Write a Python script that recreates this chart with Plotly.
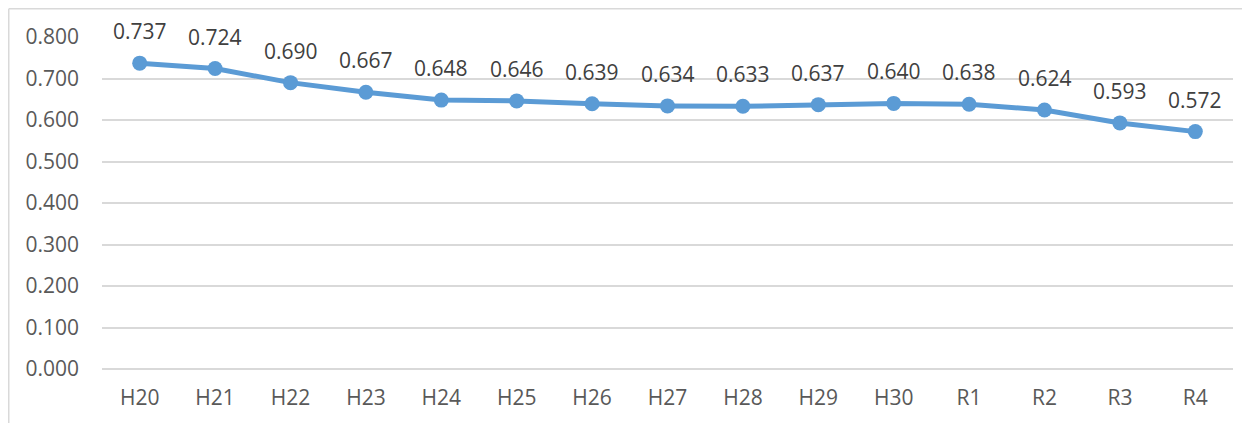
import plotly.graph_objects as go

categories = ["H20", "H21", "H22", "H23", "H24", "H25", "H26", "H27", "H28", "H29", "H30", "R1", "R2", "R3", "R4"]
values = [0.737, 0.724, 0.690, 0.667, 0.648, 0.646, 0.639, 0.634, 0.633, 0.637, 0.640, 0.638, 0.624, 0.593, 0.572]
y_ticks = [0.0, 0.1, 0.2, 0.3, 0.4, 0.5, 0.6, 0.7, 0.8]

FONT = "Open Sans"
TXT = "#404040"
FS = 21

fig = go.Figure()
fig.add_trace(go.Scatter(
    x=categories, y=values, mode="lines+markers",
    line=dict(color="#5B9BD5", width=5),
    marker=dict(color="#5B9BD5", size=15),
    hoverinfo="x+y", showlegend=False,
))
for c, v in zip(categories, values):
    fig.add_annotation(x=c, y=v, text=f"{v:.3f}", showarrow=False, yshift=32,
                       font=dict(family=FONT, size=FS, color=TXT))

# page body has an 8px margin, so the figure is offset by (8, 8)
L, R, T, B = 94, 17, 29, 54
W, H = 1242, 415
pw, ph = W - L - R, H - T - B
bx = (0.75 - L) / pw
by = 1 + (T - 0.75) / ph
fig.add_shape(type="line", xref="paper", yref="paper", x0=bx, x1=1.2, y0=by, y1=by,
              line=dict(color="#d9d9d9", width=1.5))
fig.add_shape(type="line", xref="paper", yref="paper", x0=bx, x1=bx, y0=by, y1=-0.3,
              line=dict(color="#d9d9d9", width=1.5))

fig.update_layout(
    width=W, height=H, margin=dict(l=L, r=R, t=T, b=B),
    paper_bgcolor="white", plot_bgcolor="white",
    font=dict(family=FONT, size=FS, color="#595959"),
    xaxis=dict(type="category", range=[-0.5, 14.5], showgrid=False, showline=False,
               ticks="", ticklabelstandoff=14, tickfont=dict(size=FS, color="#595959"),
               fixedrange=True),
    yaxis=dict(range=[0, 0.8], tickvals=y_ticks, ticktext=[f"{t:.3f}" for t in y_ticks],
               showgrid=True, gridcolor="#d9d9d9", gridwidth=1.5, zeroline=True,
               zerolinecolor="#d9d9d9", zerolinewidth=1.5, showline=False, ticks="",
               ticklabelstandoff=22, tickfont=dict(size=FS, color="#595959"), fixedrange=True),
)
fig.write_html("out.html")
